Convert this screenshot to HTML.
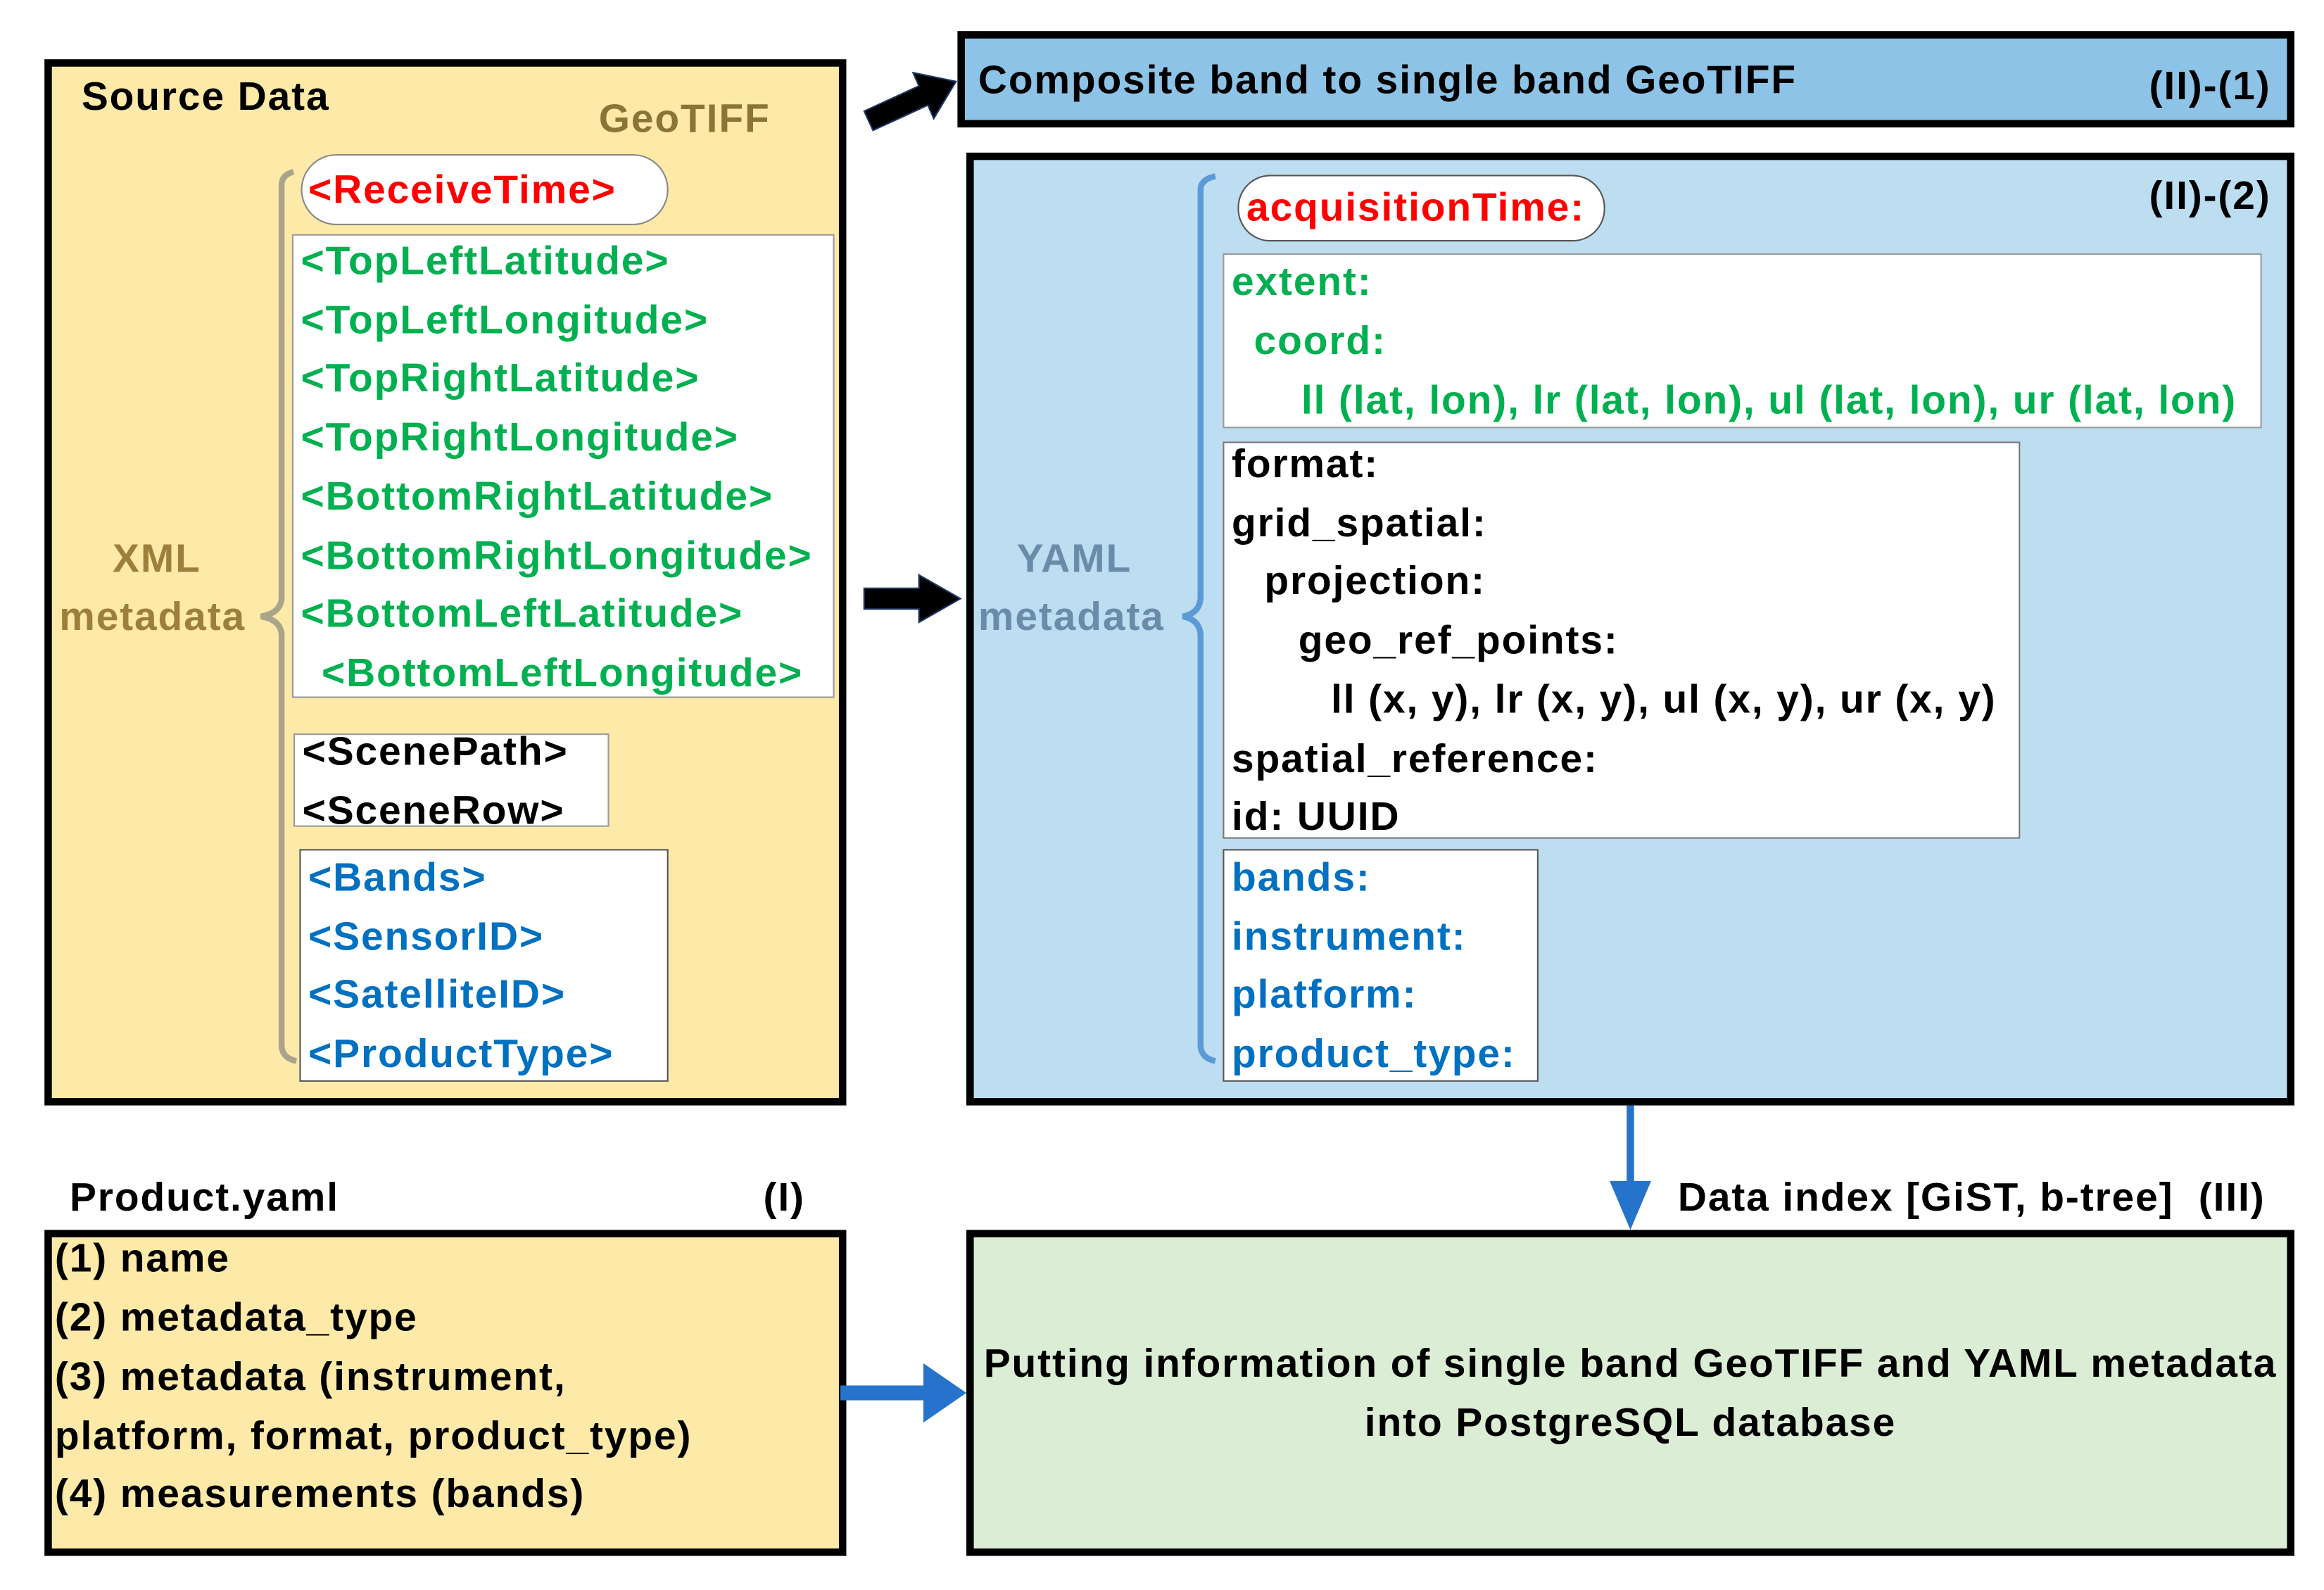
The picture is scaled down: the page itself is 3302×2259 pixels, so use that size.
<!DOCTYPE html>
<html><head><meta charset="utf-8"><style>
html,body{margin:0;padding:0;background:#fff;width:3302px;height:2259px;overflow:hidden}
#w{position:absolute;left:0;top:0;width:1568px;height:1073px;transform:scale(2.1059,2.1053);transform-origin:0 0;font-family:"Liberation Sans",sans-serif;font-weight:bold}
.b{position:absolute;box-sizing:border-box}
.t{position:absolute;white-space:nowrap;font-size:27px;line-height:32px;transform:translateY(-16px);letter-spacing:0.9px}
.g{color:#00B050}.bl{color:#0070C0}.r{color:#FF0000}
</style></head><body><div id="w">
<!-- Source -->
<div class="b" style="left:30px;top:40px;width:541px;height:706px;background:#FDE9A8;border:5px solid #000"></div>
<div class="t" style="left:55px;top:65px;color:#000">Source Data</div>
<div class="t" style="left:404px;top:80px;color:#8B7536">GeoTIFF</div>
<div class="t" style="left:76px;top:377px;color:#9C7F3A">XML</div>
<div class="t" style="left:40px;top:416px;color:#9C7F3A">metadata</div>
<div class="b" style="left:203px;top:104px;width:248px;height:48px;background:#fff;border:1px solid #888;border-radius:24px"></div>
<div class="t r" style="left:208px;top:128px">&lt;ReceiveTime&gt;</div>
<div class="b" style="left:197px;top:158px;width:366px;height:313px;background:#fff;border:1px solid #999"></div>
<div class="t g" style="left:203px;top:176px">&lt;TopLeftLatitude&gt;</div>
<div class="t g" style="left:203px;top:216px">&lt;TopLeftLongitude&gt;</div>
<div class="t g" style="left:203px;top:255px">&lt;TopRightLatitude&gt;</div>
<div class="t g" style="left:203px;top:295px">&lt;TopRightLongitude&gt;</div>
<div class="t g" style="left:203px;top:335px">&lt;BottomRightLatitude&gt;</div>
<div class="t g" style="left:203px;top:375px">&lt;BottomRightLongitude&gt;</div>
<div class="t g" style="left:203px;top:414px">&lt;BottomLeftLatitude&gt;</div>
<div class="t g" style="left:217px;top:454px">&lt;BottomLeftLongitude&gt;</div>
<div class="b" style="left:198px;top:495px;width:213px;height:63px;background:#fff;border:1px solid #999"></div>
<div class="t" style="left:204px;top:507px;color:#000">&lt;ScenePath&gt;</div>
<div class="t" style="left:204px;top:547px;color:#000">&lt;SceneRow&gt;</div>
<div class="b" style="left:202px;top:573px;width:249px;height:157px;background:#fff;border:1px solid #555"></div>
<div class="t bl" style="left:208px;top:592px">&lt;Bands&gt;</div>
<div class="t bl" style="left:208px;top:632px">&lt;SensorID&gt;</div>
<div class="t bl" style="left:208px;top:671px">&lt;SatelliteID&gt;</div>
<div class="t bl" style="left:208px;top:711px">&lt;ProductType&gt;</div>
<!-- Top blue -->
<div class="b" style="left:646px;top:21px;width:902px;height:65px;background:#8DC3E6;border:5px solid #000"></div>
<div class="t" style="left:660px;top:54px;color:#000">Composite band to single band GeoTIFF</div>
<div class="t" style="left:1450px;top:58px;color:#000">(II)-(1)</div>
<!-- Big blue -->
<div class="b" style="left:652px;top:103px;width:896px;height:643px;background:#BDDDF1;border:5px solid #000"></div>
<div class="t" style="left:1450px;top:132px;color:#000">(II)-(2)</div>
<div class="t" style="left:686px;top:377px;color:#6A8CA8">YAML</div>
<div class="t" style="left:660px;top:416px;color:#6A8CA8">metadata</div>
<div class="b" style="left:835px;top:118px;width:248px;height:45px;background:#fff;border:1px solid #555;border-radius:22px"></div>
<div class="t r" style="left:841px;top:140px">acquisitionTime:</div>
<div class="b" style="left:825px;top:171px;width:701px;height:118px;background:#fff;border:1px solid #999"></div>
<div class="t g" style="left:831px;top:190px">extent:</div>
<div class="t g" style="left:846px;top:230px">coord:</div>
<div class="t g" style="left:878px;top:270px">ll (lat, lon), lr (lat, lon), ul (lat, lon), ur (lat, lon)</div>
<div class="b" style="left:825px;top:298px;width:538px;height:268px;background:#fff;border:1px solid #777"></div>
<div class="t" style="left:831px;top:313px">format:</div>
<div class="t" style="left:831px;top:353px">grid_spatial:</div>
<div class="t" style="left:853px;top:392px">projection:</div>
<div class="t" style="left:876px;top:432px">geo_ref_points:</div>
<div class="t" style="left:898px;top:472px">ll (x, y), lr (x, y), ul (x, y), ur (x, y)</div>
<div class="t" style="left:831px;top:512px">spatial_reference:</div>
<div class="t" style="left:831px;top:551px">id: UUID</div>
<div class="b" style="left:825px;top:573px;width:213px;height:157px;background:#fff;border:1px solid #555"></div>
<div class="t bl" style="left:831px;top:592px">bands:</div>
<div class="t bl" style="left:831px;top:632px">instrument:</div>
<div class="t bl" style="left:831px;top:671px">platform:</div>
<div class="t bl" style="left:831px;top:711px">product_type:</div>
<!-- bottom -->
<div class="t" style="left:47px;top:808px;color:#000">Product.yaml</div>
<div class="t" style="left:515px;top:808px;color:#000">(I)</div>
<div class="t" style="left:1132px;top:808px;color:#000">Data index [GiST, b-tree]&nbsp; (III)</div>
<div class="b" style="left:30px;top:830px;width:541px;height:220px;background:#FDE9A8;border:5px solid #000"></div>
<div class="t" style="left:37px;top:849px">(1) name</div>
<div class="t" style="left:37px;top:889px">(2) metadata_type</div>
<div class="t" style="left:37px;top:929px">(3) metadata (instrument,</div>
<div class="t" style="left:37px;top:969px">platform, format, product_type)</div>
<div class="t" style="left:37px;top:1008px">(4) measurements (bands)</div>
<div class="b" style="left:652px;top:830px;width:896px;height:220px;background:#DCEDD5;border:5px solid #000"></div>
<div class="t" style="left:640px;width:920px;text-align:center;top:920px;letter-spacing:0.9px">Putting information of single band GeoTIFF and YAML metadata</div>
<div class="t" style="left:652px;width:896px;text-align:center;top:960px">into PostgreSQL database</div>
<svg style="position:absolute;left:0;top:0" width="1568" height="1073">
<path d="M190,125 Q190,118 198,116 M190,125 L190,404 Q189,414 176,416 Q189,418 190,428 L190,705 Q190,714 200,716" fill="none" stroke="#A9A48A" stroke-width="4"/>
<path d="M810,128 Q810,121 820,119 M810,128 L810,404 Q809,414 798,416 Q809,418 810,428 L810,705 Q810,714 820,716" fill="none" stroke="#5B9BD5" stroke-width="4"/>
<polygon points="583,75 620,58 616,49 645,55 630,80 626,71 589,88" fill="#000" stroke="#1F3864" stroke-width="1"/>
<polygon points="583,397 620,397 620,388 648,404 620,420 620,411 583,411" fill="#000" stroke="#1F3864" stroke-width="1"/>
<line x1="1100" y1="746" x2="1100" y2="800" stroke="#2673CC" stroke-width="5"/>
<polygon points="1086,797 1114,797 1100,830" fill="#2673CC"/>
<rect x="567" y="935" width="58" height="10" fill="#2673CC"/>
<polygon points="623,920 652,940 623,960" fill="#2673CC"/>
</svg>
</div></body></html>
